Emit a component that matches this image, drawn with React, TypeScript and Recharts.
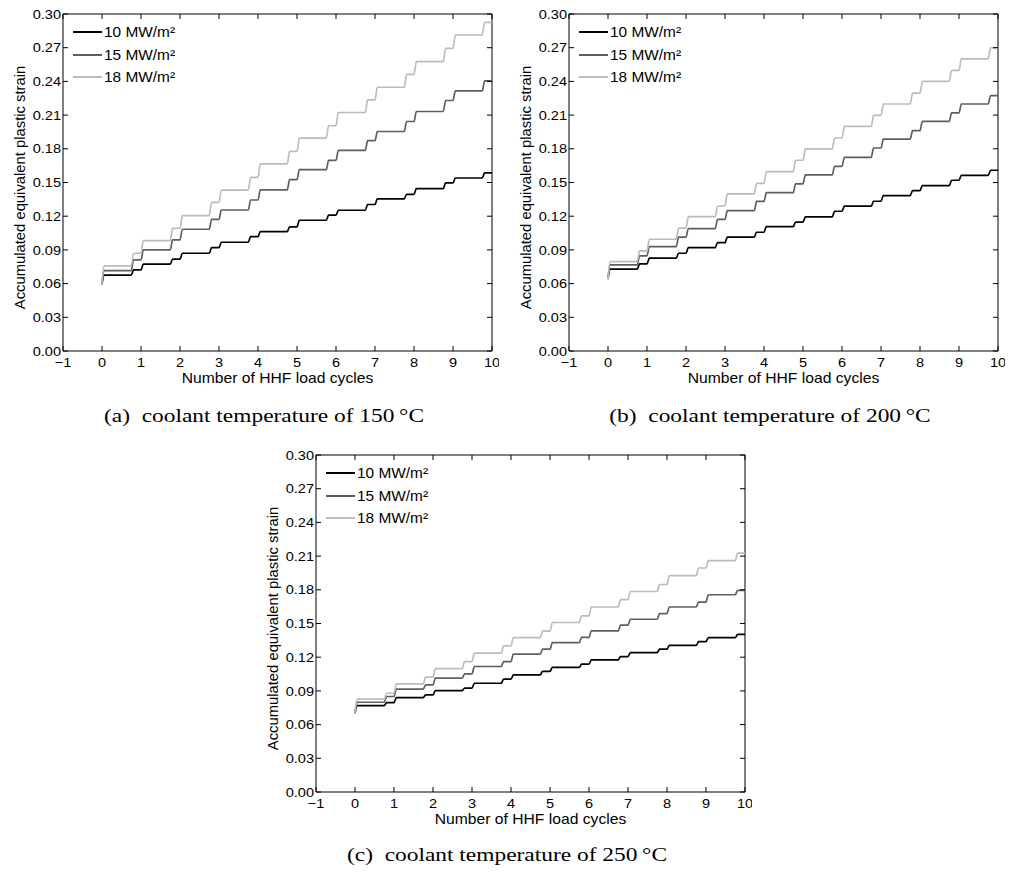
import React from "react";
import { LineChart, Line, XAxis, YAxis, Legend, ReferenceLine } from "recharts";

const SANS = '"Liberation Sans", Arial, Helvetica, sans-serif';
const SERIF = '"Liberation Serif", "Times New Roman", serif';

// plot frame inside every 499x400 panel
const PLOT_TOP = 14;
const PLOT_BOTTOM = 351;
const PLOT_LEFT = 63;
const PLOT_RIGHT = 492;

const X_TICKS = [-1, 0, 1, 2, 3, 4, 5, 6, 7, 8, 9, 10];
const Y_TICKS = [0, 0.03, 0.06, 0.09, 0.12, 0.15, 0.18, 0.21, 0.24, 0.27, 0.3];
// each load cycle has two strain jumps: at n+0.75 and at n+1
const STEP_X = [0.75, 1, 1.75, 2, 2.75, 3, 3.75, 4, 4.75, 5, 5.75, 6, 6.75, 7, 7.75, 8, 8.75, 9, 9.75];

const LOADS = ["10 MW/m²", "15 MW/m²", "18 MW/m²"];
const COLORS = ["#000000", "#5e5e5e", "#bcbcbc"];

// (a) 150 °C
const START_150 = [0.059, 0.06, 0.059];
const A_10 = [0.0675, 0.0722, 0.0773, 0.0817, 0.087, 0.0921, 0.0968, 0.1018, 0.1063, 0.1105, 0.1164, 0.1209, 0.1253, 0.1304, 0.1354, 0.1395, 0.1446, 0.1496, 0.154, 0.1585];
const A_15 = [0.0716, 0.0811, 0.09, 0.0989, 0.1084, 0.1172, 0.1255, 0.1344, 0.1435, 0.1525, 0.1614, 0.1697, 0.1786, 0.1872, 0.1954, 0.2043, 0.2132, 0.223, 0.2316, 0.2405];
const A_18 = [0.0758, 0.087, 0.0983, 0.1092, 0.1205, 0.1323, 0.1433, 0.1545, 0.1665, 0.1777, 0.1895, 0.2005, 0.2123, 0.2236, 0.2348, 0.2463, 0.2576, 0.2694, 0.2813, 0.2925];

// (b) 200 °C
const START_200 = [0.064, 0.064, 0.064];
const B_10 = [0.0728, 0.0776, 0.0826, 0.087, 0.0921, 0.0965, 0.1013, 0.1057, 0.1107, 0.1147, 0.1194, 0.1244, 0.1289, 0.1333, 0.1384, 0.1428, 0.1473, 0.152, 0.1564, 0.1609];
const B_15 = [0.0767, 0.0847, 0.093, 0.1013, 0.109, 0.1172, 0.1249, 0.1332, 0.1409, 0.1487, 0.1567, 0.1644, 0.1724, 0.1807, 0.1887, 0.1961, 0.2044, 0.2119, 0.2199, 0.2273];
const B_18 = [0.0796, 0.0891, 0.0995, 0.1093, 0.1196, 0.1291, 0.1398, 0.1492, 0.1596, 0.1698, 0.1799, 0.1896, 0.2, 0.2098, 0.2199, 0.2296, 0.24, 0.2498, 0.2601, 0.2699];

// (c) 250 °C
const START_250 = [0.07, 0.07, 0.07];
const C_10 = [0.0769, 0.0796, 0.0841, 0.0864, 0.0903, 0.0924, 0.0968, 0.1004, 0.1043, 0.1074, 0.1109, 0.1138, 0.1176, 0.1206, 0.1241, 0.1271, 0.1306, 0.1338, 0.1374, 0.1403];
const C_15 = [0.0799, 0.085, 0.0915, 0.0953, 0.1013, 0.1051, 0.1117, 0.1161, 0.1227, 0.1271, 0.1329, 0.1376, 0.1435, 0.1485, 0.1538, 0.1588, 0.1647, 0.1691, 0.1756, 0.1794];
const C_18 = [0.0826, 0.0879, 0.0962, 0.1022, 0.1099, 0.1161, 0.1236, 0.1301, 0.1375, 0.1432, 0.1509, 0.1568, 0.1647, 0.1712, 0.1785, 0.1847, 0.1926, 0.1994, 0.206, 0.2126];

function staircase(start: number, levels: number[]) {
  const pts = [{ x: 0, y: start }, { x: 0.05, y: levels[0] }];
  STEP_X.forEach((s, i) => {
    pts.push({ x: s, y: levels[i] });
    pts.push({ x: s + 0.06, y: levels[i + 1] });
  });
  pts.push({ x: 10, y: levels[levels.length - 1] });
  return pts;
}

// matlab style: tick marks point inwards on all four sides of the box
const XTick = ({ x, y, payload }: any) => (
  <g>
    <line x1={x} x2={x} y1={PLOT_BOTTOM} y2={PLOT_BOTTOM - 5} stroke="#000" />
    <line x1={x} x2={x} y1={PLOT_TOP} y2={PLOT_TOP + 5} stroke="#000" />
    <text
      transform={`translate(${x},${y}) scale(1.12,1)`}
      textAnchor="middle"
      dy="0.71em"
      fontSize={13}
      fontFamily={SANS}
      fill="#000"
    >
      {payload.value < 0 ? `\u2212${-payload.value}` : payload.value}
    </text>
  </g>
);

const YTick = ({ x, y, payload }: any) => (
  <g>
    <line x1={PLOT_LEFT} x2={PLOT_LEFT + 5} y1={y} y2={y} stroke="#000" />
    <line x1={PLOT_RIGHT} x2={PLOT_RIGHT - 5} y1={y} y2={y} stroke="#000" />
    <text
      transform={`translate(${x},${y}) scale(1.12,1)`}
      textAnchor="end"
      dy="0.36em"
      fontSize={13}
      fontFamily={SANS}
      fill="#000"
    >
      {Number(payload.value).toFixed(2)}
    </text>
  </g>
);

const xTitle = (props: any) => {
  const vb = props.viewBox || { x: 0, y: 0, width: 0, height: 0 };
  return (
    <text
      transform={`translate(${vb.x + vb.width / 2},${vb.y + 27}) scale(1.12,1)`}
      textAnchor="middle"
      dy="0.36em"
      fontSize={14}
      fontFamily={SANS}
      fill="#000"
    >
      Number of HHF load cycles
    </text>
  );
};

const yTitle = (props: any) => {
  const vb = props.viewBox || { x: 0, y: 0, width: 0, height: 0 };
  return (
    <text
      transform={`translate(${vb.x + 20},${vb.y + vb.height / 2 + 5}) rotate(-90)`}
      textAnchor="middle"
      dy="0.36em"
      fontSize={14.8}
      fontFamily={SANS}
      fill="#000"
    >
      Accumulated equivalent plastic strain
    </text>
  );
};

const LegendBox = ({ payload }: any) => (
  <div style={{ fontFamily: SANS, fontSize: 14, color: "#000" }}>
    {(payload || []).map((p: any) => (
      <div key={p.value} style={{ display: "flex", alignItems: "center", height: 22.5 }}>
        <span style={{ display: "inline-block", width: 29, borderTop: `2px solid ${p.color}`, marginRight: 2 }} />
        <span style={{ display: "inline-block", transform: "scaleX(1.1)", transformOrigin: "left center" }}>{p.value}</span>
      </div>
    ))}
  </div>
);

function Panel({ left, top, start, series }: { left: number; top: number; start: number[]; series: number[][] }) {
  return (
    <div style={{ position: "absolute", left, top, width: 499, height: 400 }}>
      <LineChart width={499} height={400} margin={{ top: PLOT_TOP, right: 499 - PLOT_RIGHT, bottom: 0, left: 0 }}>
        <XAxis
          xAxisId="b"
          type="number"
          dataKey="x"
          domain={[-1, 10]}
          ticks={X_TICKS}
          interval={0}
          height={400 - PLOT_BOTTOM}
          tickLine={false}
          tickSize={0}
          tickMargin={7}
          stroke="#000"
          tick={<XTick />}
          label={xTitle}
        />
        <YAxis
          yAxisId="l"
          type="number"
          domain={[0, 0.3]}
          ticks={Y_TICKS}
          interval={0}
          width={PLOT_LEFT}
          tickLine={false}
          tickSize={0}
          tickMargin={2}
          stroke="#000"
          tick={<YTick />}
          label={yTitle}
        />
        <ReferenceLine xAxisId="b" yAxisId="l" x={10} stroke="#000" />
        <ReferenceLine xAxisId="b" yAxisId="l" y={0.3} stroke="#000" />
        <Legend
          layout="vertical"
          align="center"
          verticalAlign="middle"
          wrapperStyle={{ left: 73, top: 21, width: "auto", height: "auto" }}
          content={<LegendBox />}
        />
        {series.map((levels, i) => (
          <Line
            key={LOADS[i]}
            xAxisId="b"
            yAxisId="l"
            name={LOADS[i]}
            data={staircase(start[i], levels)}
            dataKey="y"
            type="monotone"
            stroke={COLORS[i]}
            strokeWidth={1.7}
            dot={false}
            isAnimationActive={false}
          />
        ))}
      </LineChart>
    </div>
  );
}

const Caption = ({ cx, cy, text }: { cx: number; cy: number; text: string }) => (
  <div
    style={{
      position: "absolute",
      left: cx,
      top: cy - 11,
      transform: "translateX(-50%) scaleX(1.2)",
      fontFamily: SERIF,
      fontSize: 19.5,
      lineHeight: "22px",
      whiteSpace: "pre",
      color: "#000",
    }}
  >
    {text}
  </div>
);

export default function App() {
  return (
    <div style={{ position: "absolute", left: 0, top: 0, width: 1010, height: 873, background: "#fff", overflow: "hidden" }}>
      <Panel left={0} top={0} start={START_150} series={[A_10, A_15, A_18]} />
      <Panel left={506} top={0} start={START_200} series={[B_10, B_15, B_18]} />
      <Panel left={253} top={441} start={START_250} series={[C_10, C_15, C_18]} />
      <Caption cx={264} cy={416} text={"(a)  coolant temperature of 150\u2009°C"} />
      <Caption cx={770} cy={416} text={"(b)  coolant temperature of 200\u2009°C"} />
      <Caption cx={507} cy={855} text={"(c)  coolant temperature of 250\u2009°C"} />
    </div>
  );
}
